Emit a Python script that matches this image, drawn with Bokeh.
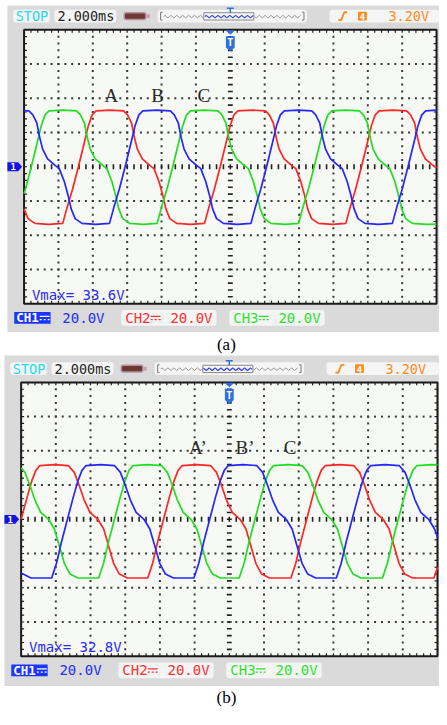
import numpy as np
from bokeh.plotting import figure
from bokeh.models import Range1d
from bokeh.core.properties import value
from bokeh.embed import file_html
from bokeh.resources import INLINE

# ---------------- data read from the two oscilloscope screens (time ms, volts) ----------------
RED_A = [(-12.0,-24.6),(-11.77,-30.3),(-11.37,-33.1),(-10.57,-33.7),
 (-9.75,-33.1),(-9.52,-24.6),(-9.18,-13.1),(-8.84,0.0),(-8.49,14.3),(-8.26,24.0),(-8.04,30.3),(-7.81,32.6),(-7.01,33.1),(-6.21,32.6),(-5.98,30.3),(-5.75,25.7),(-5.58,17.1),(-5.41,10.3),(-5.12,4.6),(-4.72,1.1),(-4.44,-1.1),(-4.15,-8.6),(-3.92,-17.1),(-3.75,-24.6),(-3.52,-30.3),(-3.12,-33.1),(-2.32,-33.7),
 (-1.5,-33.1),(-1.27,-24.6),(-0.93,-13.1),(-0.59,0.0),(-0.24,14.3),(-0.01,24.0),(0.21,30.3),(0.44,32.6),(1.24,33.1),(2.04,32.6),(2.27,30.3),(2.5,25.7),(2.67,17.1),(2.84,10.3),(3.13,4.6),(3.53,1.1),(3.81,-1.1),(4.1,-8.6),(4.33,-17.1),(4.5,-24.6),(4.73,-30.3),(5.13,-33.1),(5.93,-33.7),
 (6.72,-33.1),(6.95,-24.6),(7.29,-13.1),(7.63,0.0),(7.98,14.3),(8.21,24.0),(8.43,30.3),(8.66,32.6),(9.46,33.1),(10.26,32.6),(10.49,30.3),(10.72,25.7),(10.89,17.1),(11.06,10.3),(11.35,4.6),(11.75,1.1),(12.0,-0.6)]

BLUE_A = [(-12.0,32.8),(-11.72,32.6),(-11.49,30.3),(-11.26,25.7),(-11.09,17.1),(-10.92,10.3),(-10.63,4.6),(-10.23,1.1),(-9.95,-1.1),(-9.66,-8.6),(-9.43,-17.1),(-9.26,-24.6),(-9.03,-30.3),(-8.63,-33.1),(-7.83,-33.7),
 (-7.03,-33.1),(-6.8,-24.6),(-6.46,-13.1),(-6.12,0.0),(-5.77,14.3),(-5.54,24.0),(-5.32,30.3),(-5.09,32.6),(-4.29,33.1),(-3.49,32.6),(-3.26,30.3),(-3.03,25.7),(-2.86,17.1),(-2.69,10.3),(-2.4,4.6),(-2.0,1.1),(-1.72,-1.1),(-1.43,-8.6),(-1.2,-17.1),(-1.03,-24.6),(-0.8,-30.3),(-0.4,-33.1),(0.4,-33.7),
 (1.2,-33.1),(1.43,-24.6),(1.77,-13.1),(2.11,0.0),(2.46,14.3),(2.69,24.0),(2.91,30.3),(3.14,32.6),(3.94,33.1),(4.74,32.6),(4.97,30.3),(5.2,25.7),(5.37,17.1),(5.54,10.3),(5.83,4.6),(6.23,1.1),(6.51,-1.1),(6.8,-8.6),(7.03,-17.1),(7.2,-24.6),(7.43,-30.3),(7.83,-33.1),(8.63,-33.7),
 (9.43,-33.1),(9.66,-24.6),(10.0,-13.1),(10.34,0.0),(10.69,14.3),(10.92,24.0),(11.14,30.3),(11.37,32.6),(12.0,33.1)]

GREEN_A = [(-12.0,-15.8),(-11.92,-13.1),(-11.58,0.0),(-11.23,14.3),(-11.0,24.0),(-10.78,30.3),(-10.55,32.6),(-9.75,33.1),(-8.95,32.6),(-8.72,30.3),(-8.49,25.7),(-8.32,17.1),(-8.15,10.3),(-7.86,4.6),(-7.46,1.1),(-7.18,-1.1),(-6.89,-8.6),(-6.66,-17.1),(-6.49,-24.6),(-6.26,-30.3),(-5.86,-33.1),(-5.06,-33.7),
 (-4.26,-33.1),(-4.03,-24.6),(-3.69,-13.1),(-3.35,0.0),(-3.0,14.3),(-2.77,24.0),(-2.55,30.3),(-2.32,32.6),(-1.52,33.1),(-0.72,32.6),(-0.49,30.3),(-0.26,25.7),(-0.09,17.1),(0.08,10.3),(0.37,4.6),(0.77,1.1),(1.05,-1.1),(1.34,-8.6),(1.57,-17.1),(1.74,-24.6),(1.97,-30.3),(2.37,-33.1),(3.17,-33.7),
 (3.97,-33.1),(4.2,-24.6),(4.54,-13.1),(4.88,0.0),(5.23,14.3),(5.46,24.0),(5.68,30.3),(5.91,32.6),(6.71,33.1),(7.51,32.6),(7.74,30.3),(7.97,25.7),(8.14,17.1),(8.31,10.3),(8.6,4.6),(9.0,1.1),(9.28,-1.1),(9.57,-8.6),(9.8,-17.1),(9.97,-24.6),(10.2,-30.3),(10.6,-33.1),(11.4,-33.7),(12.0,-33.5)]

RED_B = [(-12.0,0.0),(-11.65,13.1),(-11.37,22.9),(-11.15,28.6),(-10.92,31.4),(-10.07,32.0),(-9.28,31.4),(-8.94,27.4),(-8.66,20.0),(-8.37,11.4),(-8.03,4.0),(-7.58,0.0),(-7.24,-5.7),(-6.96,-15.4),(-6.67,-25.7),(-6.34,-32.0),(-5.88,-34.3),(-4.98,-34.3),
 (-4.7,-34.3),(-4.42,-25.7),(-4.13,-13.1),(-3.79,0.0),(-3.45,13.1),(-3.17,22.9),(-2.95,28.6),(-2.72,31.4),(-1.87,32.0),(-1.08,31.4),(-0.74,27.4),(-0.46,20.0),(-0.17,11.4),(0.17,4.0),(0.62,0.0),(0.96,-5.7),(1.24,-15.4),(1.53,-25.7),(1.86,-32.0),(2.32,-34.3),(3.22,-34.3),
 (3.55,-34.3),(3.83,-25.7),(4.12,-13.1),(4.46,0.0),(4.8,13.1),(5.08,22.9),(5.3,28.6),(5.53,31.4),(6.38,32.0),(7.17,31.4),(7.51,27.4),(7.79,20.0),(8.08,11.4),(8.42,4.0),(8.87,0.0),(9.21,-5.7),(9.49,-15.4),(9.78,-25.7),(10.11,-32.0),(10.57,-34.3),(11.47,-34.3),
 (11.8,-34.3),(12.0,-28.0)]

BLUE_B = [(-12.0,-31.5),(-11.89,-32.0),(-11.43,-34.3),(-10.53,-34.3),
 (-10.24,-34.3),(-9.96,-25.7),(-9.67,-13.1),(-9.33,0.0),(-8.99,13.1),(-8.71,22.9),(-8.49,28.6),(-8.26,31.4),(-7.41,32.0),(-6.62,31.4),(-6.28,27.4),(-6.0,20.0),(-5.71,11.4),(-5.37,4.0),(-4.92,0.0),(-4.58,-5.7),(-4.3,-15.4),(-4.01,-25.7),(-3.68,-32.0),(-3.22,-34.3),(-2.32,-34.3),
 (-2.04,-34.3),(-1.76,-25.7),(-1.47,-13.1),(-1.13,0.0),(-0.79,13.1),(-0.51,22.9),(-0.29,28.6),(-0.06,31.4),(0.79,32.0),(1.58,31.4),(1.92,27.4),(2.2,20.0),(2.49,11.4),(2.83,4.0),(3.28,0.0),(3.62,-5.7),(3.9,-15.4),(4.19,-25.7),(4.52,-32.0),(4.98,-34.3),(5.88,-34.3),
 (6.17,-34.3),(6.45,-25.7),(6.74,-13.1),(7.08,0.0),(7.42,13.1),(7.7,22.9),(7.92,28.6),(8.15,31.4),(9.0,32.0),(9.79,31.4),(10.13,27.4),(10.41,20.0),(10.7,11.4),(11.04,4.0),(11.49,0.0),(11.83,-5.7),(12.0,-10.5)]

GREEN_B = [(-12.0,30.0),(-11.78,27.4),(-11.5,20.0),(-11.21,11.4),(-10.87,4.0),(-10.42,0.0),(-10.08,-5.7),(-9.8,-15.4),(-9.51,-25.7),(-9.18,-32.0),(-8.72,-34.3),(-7.82,-34.3),
 (-7.53,-34.3),(-7.25,-25.7),(-6.96,-13.1),(-6.62,0.0),(-6.28,13.1),(-6.0,22.9),(-5.78,28.6),(-5.55,31.4),(-4.7,32.0),(-3.91,31.4),(-3.57,27.4),(-3.29,20.0),(-3.0,11.4),(-2.66,4.0),(-2.21,0.0),(-1.87,-5.7),(-1.59,-15.4),(-1.3,-25.7),(-0.97,-32.0),(-0.51,-34.3),(0.39,-34.3),
 (0.57,-34.3),(0.85,-25.7),(1.14,-13.1),(1.48,0.0),(1.82,13.1),(2.1,22.9),(2.32,28.6),(2.55,31.4),(3.4,32.0),(4.19,31.4),(4.53,27.4),(4.81,20.0),(5.1,11.4),(5.44,4.0),(5.89,0.0),(6.23,-5.7),(6.51,-15.4),(6.8,-25.7),(7.13,-32.0),(7.59,-34.3),(8.49,-34.3),
 (8.83,-34.3),(9.11,-25.7),(9.4,-13.1),(9.74,0.0),(10.08,13.1),(10.36,22.9),(10.58,28.6),(10.81,31.4),(11.66,32.0),(12.0,31.8)]

TIMEBASE = "2.000ms"        # 2 ms / div
VOLTS_DIV = "20.0V"         # 20 V / div
TRIG_LEVEL = "3.20V"
VMAX = ["Vmax= 33.6V", "Vmax= 32.8V"]
PHASES = [["A", "B", "C"], ["A\u2019", "B\u2019", "C\u2019"]]
CAPTIONS = ["(a)", "(b)"]
MS_PER_DIV = 2.0
V_PER_DIV = 20.0

# ---------------- styling ----------------
PANEL = "#dadada"
SCREEN = "#f7f9f4"
BOX = "#f5f5f5"
DOT = "#3a3a3a"
C_RED, C_GRN, C_BLU = "#ff2626", "#22dd22", "#2626ff"
T_RED, T_GRN, T_BLU = "#ff3030", "#2ee22e", "#2030ff"
MONO = "DejaVu Sans Mono"
SERIF = "Liberation Serif"

PW, PH = 447, 725          # layout space of the whole figure
p = figure(width=439, height=709, x_range=Range1d(0, PW), y_range=Range1d(PH, 0),
           output_backend="svg", toolbar_location=None, min_border=0,
           x_axis_location=None, y_axis_location=None, title=None)
p.grid.visible = False
p.outline_line_color = None
p.background_fill_color = "white"
p.border_fill_color = "white"


def txt(x, y, s, color, size=14, font=MONO, align="left", bold=False):
    p.text(x=[x], y=[y], text=[s], text_color=color, text_font=value(font),
           text_font_size=f"{size}px", text_align=align, text_baseline="middle",
           text_font_style="bold" if bold else "normal")


def box(l, r, t, b, color):
    p.quad(left=[l], right=[r], top=[t], bottom=[b], fill_color=color, line_color=None,
           border_radius=3)


def dc_symbol(x, y, color):
    p.segment(x0=[x], y0=[y - 1.5], x1=[x + 10], y1=[y - 1.5], line_color=color, line_width=1.3)
    p.segment(x0=[x, x + 4, x + 8], y0=[y + 1.8] * 3, x1=[x + 2, x + 6, x + 10], y1=[y + 1.8] * 3,
              line_color=color, line_width=1.3)


def panel(idx, px0, ptop, pbot, gx0, gy0, gdx, gdy, traces, label_pos, xr, yr, cap_y):
    gx1, gy1 = gx0 + 12 * gdx, gy0 + 8 * gdy
    cx, cy = gx0 + 6 * gdx, gy0 + 4 * gdy
    hy = gy0 - 14
    fy = gy1 + 14.5

    # ranges that map the traces (ms, V) onto this screen
    ppms = gdx / MS_PER_DIV
    ppv = gdy / V_PER_DIV
    p.extra_x_ranges[xr] = Range1d((0 - cx) / ppms, (PW - cx) / ppms)
    p.extra_y_ranges[yr] = Range1d((cy - PH) / ppv, (cy - 0) / ppv)

    p.quad(left=[px0], right=[PW], top=[ptop], bottom=[pbot], fill_color=PANEL, line_color=None)
    p.quad(left=[gx0], right=[gx1], top=[gy0], bottom=[gy1], fill_color=SCREEN, line_color=None)

    # ----- header -----
    box(gx0 - 11, gx0 + 26, hy - 6.5, hy + 6.5, BOX)
    txt(gx0 - 8.5, hy, "STOP", "#22dcec", 13.5)
    box(gx0 + 31, gx0 + 94, hy - 6.5, hy + 6.5, BOX)
    txt(gx0 + 34, hy, TIMEBASE, "#222222", 13.5)
    p.quad(left=[gx0 + 102], right=[gx0 + 124], top=[hy - 3.5], bottom=[hy + 3.5],
           fill_color="#6b392d", line_color="#b88ea6", line_width=1.5, border_radius=2)
    p.quad(left=[gx0 + 125], right=[gx0 + 128], top=[hy - 2], bottom=[hy + 2],
           fill_color="#c79fb5", line_color=None)
    box(gx0 + 136, gx0 + 288, hy - 6.5, hy + 6.5, BOX)
    bl, br = gx0 + 139, gx0 + 285
    p.multi_line(xs=[[bl + 2, bl, bl, bl + 2], [br - 2, br, br, br - 2]],
                 ys=[[hy - 4, hy - 4, hy + 4, hy + 4]] * 2, line_color="#777777", line_width=1)
    zx = np.arange(bl + 3, br - 2, 1.5)
    pat = np.array([0.0, -1.3, 0.0, 1.3])
    zy = hy + 0.5 + np.resize(pat, zx.size)
    wl, wr = cx - 27, cx + 24
    inside = (zx >= wl) & (zx <= wr)
    p.line(zx[zx < wl], zy[zx < wl], line_color="#8a8a8a", line_width=0.9)
    p.line(zx[zx > wr], zy[zx > wr], line_color="#8a8a8a", line_width=0.9)
    p.line(zx[inside], zy[inside], line_color="#3344ee", line_width=1.2)
    p.quad(left=[wl], right=[wr], top=[hy - 3.5], bottom=[hy + 4], fill_color=None,
           line_color="#888888", line_width=1)
    p.segment(x0=[cx - 3.5, cx], y0=[hy - 8, hy - 8], x1=[cx + 3.5, cx], y1=[hy - 8, hy - 3.5],
              line_color="#2f6fe0", line_width=1.5)
    box(gx0 + 311, PW, hy - 6.5, hy + 6.5, BOX)
    p.line([gx0 + 320, gx0 + 323, gx0 + 326, gx0 + 329], [hy + 4, hy + 4, hy - 4, hy - 4],
           line_color="#ff8a1a", line_width=1.8)
    p.quad(left=[gx0 + 340], right=[gx0 + 349], top=[hy - 4.5], bottom=[hy + 4.5],
           fill_color="#ff8a1a", line_color=None, border_radius=1)
    txt(gx0 + 344.5, hy + 0.5, "4", "white", 9, bold=True, align="center")
    txt(gx0 + 371, hy, TRIG_LEVEL, "#ff8a1a", 13.5)

    # ----- graticule -----
    xs, ys = [], []
    for i in range(1, 12):
        if i == 6:
            continue
        for k in range(1, 40):
            xs.append(gx0 + i * gdx); ys.append(gy0 + k * gdy / 5)
    for j in range(1, 8):
        if j == 4:
            continue
        for k in range(1, 60):
            xs.append(gx0 + k * gdx / 5); ys.append(gy0 + j * gdy)
    p.scatter(xs, ys, marker="square", size=2, fill_color=DOT, line_color=None)
    ky = [gy0 + k * gdy / 5 for k in range(1, 40)]
    kx = [gx0 + k * gdx / 5 for k in range(1, 60)]
    p.segment(x0=[cx - 2.5] * len(ky), y0=ky, x1=[cx + 2.5] * len(ky), y1=ky,
              line_color="#222222", line_width=1.6)
    p.segment(x0=kx, y0=[cy - 2.5] * len(kx), x1=kx, y1=[cy + 2.5] * len(kx),
              line_color="#222222", line_width=1.6)
    p.segment(x0=kx, y0=[gy0] * len(kx), x1=kx, y1=[gy0 + 3] * len(kx), line_color="#222222", line_width=1.2)
    p.segment(x0=kx, y0=[gy1] * len(kx), x1=kx, y1=[gy1 - 3] * len(kx), line_color="#222222", line_width=1.2)
    p.segment(x0=[gx0] * len(ky), y0=ky, x1=[gx0 + 3] * len(ky), y1=ky, line_color="#222222", line_width=1.2)
    p.segment(x0=[gx1] * len(ky), y0=ky, x1=[gx1 - 3] * len(ky), y1=ky, line_color="#222222", line_width=1.2)
    p.quad(left=[gx0], right=[gx1], top=[gy0], bottom=[gy1], fill_color=None,
           line_color="#1a1a1a", line_width=2)

    # ----- traces -----
    for data, color in traces:
        t = [d[0] for d in data]
        v = [d[1] for d in data]
        p.line(t, v, x_range_name=xr, y_range_name=yr, line_color=color, line_width=1.7)

    # phase labels
    for (lx, ly), s in zip(label_pos, PHASES[idx]):
        txt(lx, ly, s, "#2a2a2a", 19, font=SERIF, align="center")

    # trigger marker and channel marker
    p.patch([cx - 5, cx + 5, cx], [gy0 + 0.5, gy0 + 0.5, gy0 + 5], fill_color="#2f6fe0", line_color=None)
    p.patch([cx - 4.5, cx + 4.5, cx + 4.5, cx, cx - 4.5], [gy0 + 6.5, gy0 + 6.5, gy0 + 18, gy0 + 22, gy0 + 18],
            fill_color="#2f6fe0", line_color=None)
    txt(cx, gy0 + 13, "T", "white", 10, bold=True, align="center")
    mx = px0
    p.patch([mx, gx0 - 6, gx0 - 2, gx0 - 6, mx], [cy - 4.5, cy - 4.5, cy, cy + 4.5, cy + 4.5],
            fill_color="#1212e6", line_color=None)
    txt((mx + gx0 - 5) / 2, cy, "1", "white", 9, bold=True, align="center")

    # ----- footer -----
    txt(gx0 + 8, gy1 - 9, VMAX[idx], "#2a2aff", 14)
    p.quad(left=[gx0 - 10], right=[gx0 + 27], top=[fy - 6], bottom=[fy + 6], fill_color="#1a35ff", line_color=None)
    txt(gx0 - 8, fy, "CH1", "white", 12.5, bold=True)
    dc_symbol(gx0 + 16, fy, "white")
    txt(gx0 + 39, fy, VOLTS_DIV, T_BLU, 14)
    box(gx0 + 99, gx0 + 196, fy - 8, fy + 8, BOX)
    txt(gx0 + 103, fy, "CH2", T_RED, 14)
    dc_symbol(gx0 + 129, fy, T_RED)
    txt(gx0 + 149, fy, VOLTS_DIV, T_RED, 14)
    box(gx0 + 209, gx0 + 306, fy - 8, fy + 8, BOX)
    txt(gx0 + 213, fy, "CH3", T_GRN, 14)
    dc_symbol(gx0 + 239, fy, T_GRN)
    txt(gx0 + 259, fy, VOLTS_DIV, T_GRN, 14)

    txt(230, cap_y, CAPTIONS[idx], "black", 17, font=SERIF, align="center")


panel(0, 7, 5, 339, 24, 30, 35.0, 35.0,
      [(RED_A, C_RED), (GREEN_A, C_GRN), (BLUE_A, C_BLU)],
      [(113, 97), (160, 97), (207, 97)], "ta", "va", 352)
panel(1, 4, 363, 701, 21, 390.5, 35.33, 35.0,
      [(RED_B, C_RED), (GREEN_B, C_GRN), (BLUE_B, C_BLU)],
      [(201, 457), (249, 457), (298, 457)], "tb", "vb", 713)

open("out.html", "w").write(file_html(p, INLINE))
